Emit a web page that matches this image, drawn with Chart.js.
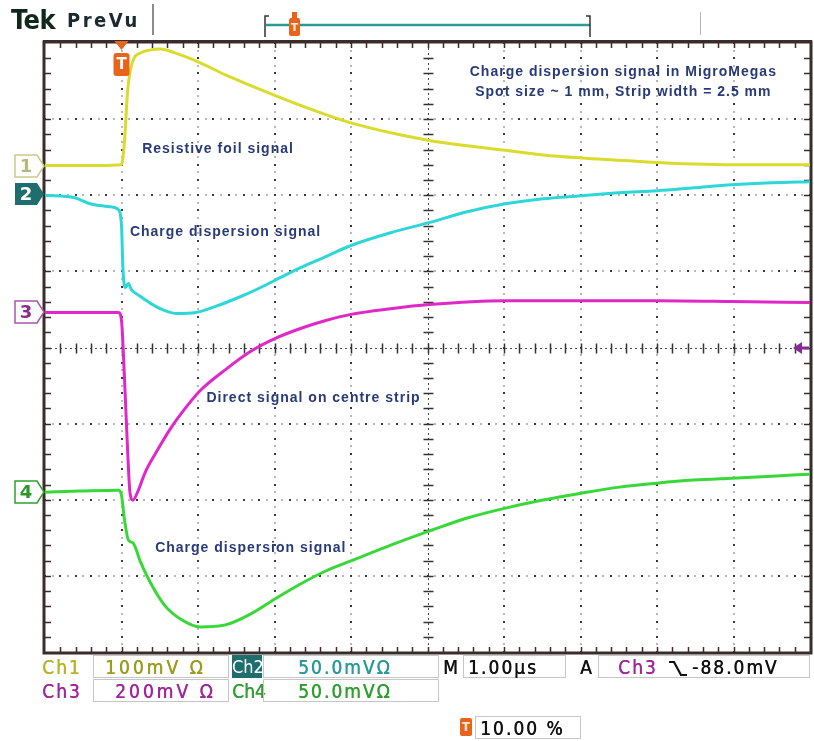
<!DOCTYPE html>
<html>
<head>
  <title>Charge dispersion signal in MigroMegas</title>
  <meta http-equiv="Content-Type" content="text/html; charset=utf-8" />
  <script src="https://cdn.jsdelivr.net/npm/chart.js@4.4.0/dist/chart.umd.min.js"></script>
  <style>
    body {
      margin: 0;
      background-color: #ffffff;
    }
    #wrap {
      position: relative;
      width: 814px;
      height: 741px;
      overflow: hidden;
    }
    #scope {
      position: absolute;
      left: 0;
      top: 0;
    }
    .t {
      position: absolute;
      font-family: "DejaVu Sans Condensed", "DejaVu Sans", sans-serif;
      font-stretch: condensed;
      font-size: 19px;
      line-height: 22px;
      letter-spacing: 2px;
      white-space: nowrap;
      text-shadow: 0.5px 0 0 currentColor;
    }
    .box {
      position: absolute;
      height: 23px;
      box-sizing: border-box;
      border: 1px solid #c6c6c6;
    }
  </style>
</head>
<body>
  <div id="wrap">
    <canvas id="scope" width="814" height="741"></canvas>

    <div class="t" style="left:11px; top:4px; font-size:27px; line-height:32px; font-weight:bold; color:#10281c; letter-spacing:-0.5px; font-stretch:normal; text-shadow:none;">Tek</div>
    <div class="t" style="left:67px; top:7px; font-size:20px; line-height:26px; font-weight:bold; color:#1a2a30; letter-spacing:2.5px; text-shadow:none;">PreVu</div>

    <!-- readout, row 1 -->
    <div class="t" style="left:42px; top:656px; color:#b4b42a;">Ch1</div>
    <div class="box" style="left:93px; top:655px; width:136px;"></div>
    <div class="t" style="left:105px; top:656px; color:#9c9c20; letter-spacing:3px;">100mV Ω</div>
    <div class="t" style="left:232px; top:655px; width:30px; height:23px; line-height:23px; letter-spacing:0; font-size:18px; text-align:center; background:#1d6e6c; color:#ffffff; text-shadow:none;">Ch2</div>
    <div class="box" style="left:263px; top:655px; width:176px;"></div>
    <div class="t" style="left:298px; top:656px; color:#2a9a98;">50.0mVΩ</div>
    <div class="t" style="left:443px; top:656px; color:#111111;">M</div>
    <div class="box" style="left:463px; top:655px; width:103px;"></div>
    <div class="t" style="left:468px; top:656px; color:#111111;">1.00µs</div>
    <div class="t" style="left:580px; top:656px; color:#111111;">A</div>
    <div class="box" style="left:598px; top:655px; width:212px;"></div>
    <div class="t" style="left:618px; top:656px; color:#a0289a;">Ch3</div>
    <svg style="position:absolute; left:668px; top:659px;" width="20" height="18"><path d="M1 3 H6 L13 16 H19" stroke="#111" stroke-width="2.2" fill="none"/></svg>
    <div class="t" style="left:692px; top:656px; color:#111111;">-88.0mV</div>

    <!-- readout, row 2 -->
    <div class="t" style="left:42px; top:680px; color:#a0289a;">Ch3</div>
    <div class="box" style="left:93px; top:679px; width:136px;"></div>
    <div class="t" style="left:115px; top:680px; color:#a0289a; letter-spacing:3px;">200mV Ω</div>
    <div class="t" style="left:232px; top:680px; color:#2fa02f; letter-spacing:0;">Ch4</div>
    <div class="box" style="left:263px; top:679px; width:176px;"></div>
    <div class="t" style="left:298px; top:680px; color:#2fa02f;">50.0mVΩ</div>

    <!-- readout, row 3 -->
    <div class="t" style="left:460px; top:718px; width:12px; height:18px; line-height:18px; font-size:13px; font-weight:bold; letter-spacing:0; text-align:center; background:#e8641c; color:#ffe8d0; border-radius:2px; text-shadow:none;">T</div>
    <div class="box" style="left:475px; top:716px; width:106px;"></div>
    <div class="t" style="left:480px; top:717px; color:#111111;">10.00 %</div>
  </div>

  <script>
    // 1 µs/div, trigger at 10 % of the record -> screen spans -1 .. 9 µs
    const t1 = [-1, -0.28, 0, 0.04, 0.08, 0.14, 0.25, 0.38, 0.51, 0.7, 1.03, 1.36, 1.69, 2.01, 2.34, 2.67, 3.0, 3.52, 4.02, 4.52, 5.02, 5.51, 6.01, 6.51, 7.0, 7.48, 7.98, 8.5, 9];
    const ch1 = [0, 0, 1, 33, 98, 135, 148, 152, 153, 148, 135, 119, 105, 92, 79, 67, 56, 43, 33, 26, 20, 14, 10, 7, 4, 2, 1, 1, 1];

    const t2 = [-1, -0.61, -0.41, -0.15, -0.04, 0, 0.02, 0.05, 0.09, 0.13, 0.25, 0.38, 0.53, 0.73, 0.97, 1.23, 1.56, 1.82, 2.08, 2.34, 2.67, 3.0, 3.52, 4.02, 4.52, 5.02, 5.51, 6.01, 6.51, 7.0, 7.48, 7.98, 8.5, 9];
    const ch2 = [-1, -2.6, -6.6, -8.5, -10.5, -21, -50.5, -61.6, -59, -63, -67.5, -72, -76, -78.7, -78, -74, -67.5, -61.6, -55, -48.5, -41.3, -34, -25.6, -19, -11.8, -6.6, -3.3, -1.3, 0.7, 2, 3.9, 5.9, 7.2, 7.9];

    const t3 = [-1, -0.04, 0, 0.04, 0.08, 0.11, 0.15, 0.21, 0.31, 0.44, 0.64, 0.84, 1.03, 1.36, 1.69, 2.01, 2.34, 2.67, 3.0, 3.52, 4.02, 5.02, 6.01, 7.0, 7.98, 9];
    const ch3 = [0, 0, -21, -178, -362, -472, -493, -472, -420, -372, -305, -250, -205, -150, -102, -68, -42, -21, -5, 10, 21, 31, 31, 31, 29, 26];

    const t4 = [-1, -0.54, -0.04, 0, 0.04, 0.09, 0.15, 0.25, 0.38, 0.57, 0.77, 1.03, 1.36, 1.69, 2.01, 2.34, 2.67, 3.0, 3.52, 4.02, 4.52, 5.02, 5.51, 6.01, 6.51, 7.0, 7.48, 7.98, 8.5, 9];
    const ch4 = [0, 0.7, 1.3, -2, -18.4, -31.5, -33.4, -46, -59.7, -74.7, -83.3, -88.5, -87.2, -80, -70, -60.3, -51.8, -45.2, -34.8, -25.6, -17, -10.5, -5.2, -0.7, 3.3, 5.9, 7.9, 9.2, 10.5, 11.8];

    // channel settings: mV per division and ground position in divisions
    const chNames = ["Ch1", "Ch2", "Ch3", "Ch4"];
    const mvPerDiv = [100, 50, 200, 50];
    const posDiv = [2.39, 2.02, 0.46, -1.9];
    const chColors = ["#d9dc2c", "#2ed6d8", "#e028c8", "#38d838"];
    const triggerLevelDiv = 0;

    const notes = [
      { text: "Charge dispersion signal in MigroMegas", t: 6.56, v: 3.62, align: "center" },
      { text: "Spot size ~ 1 mm, Strip width = 2.5 mm", t: 6.56, v: 3.36, align: "center" },
      { text: "Resistive foil signal", t: 0.27, v: 2.61, align: "left" },
      { text: "Charge dispersion signal", t: 0.11, v: 1.51, align: "left" },
      { text: "Direct signal on centre strip", t: 1.11, v: -0.66, align: "left" },
      { text: "Charge dispersion signal", t: 0.44, v: -2.64, align: "left" }
    ];

    function toScreen(ts, mv, ch) {
      return ts.map((t, i) => ({ x: t, y: posDiv[ch] + mv[i] / mvPerDiv[ch] }));
    }

    const traces = [[t1, ch1], [t2, ch2], [t3, ch3], [t4, ch4]];

    const scopeDecor = {
      id: "scopeDecor",
      beforeDatasetsDraw(chart) {
        const { ctx, chartArea: a, scales: { x, y } } = chart;
        ctx.save();

        // dotted graticule lines
        for (let i = 0; i <= 8; i++) {
          if (i === 4) continue;
          const px = Math.round(x.getPixelForValue(i));
          for (let k = 0; k <= 80; k++) {
            const py = y.getPixelForValue(-4 + k * 0.1);
            ctx.fillStyle = (k % 2 === 0) ? "#3a3a3a" : "#b8b8b8";
            ctx.fillRect(px - 1, Math.round(py) - 1, 2, 2);
          }
        }
        for (let j = -3; j <= 3; j++) {
          if (j === 0) continue;
          const py = Math.round(y.getPixelForValue(j));
          for (let k = 0; k <= 100; k++) {
            const px = x.getPixelForValue(-1 + k * 0.1);
            ctx.fillStyle = (k % 2 === 0) ? "#3a3a3a" : "#b8b8b8";
            ctx.fillRect(Math.round(px) - 1, py - 1, 2, 2);
          }
        }

        // centre lines with minor ticks
        const cx = Math.round(x.getPixelForValue(4)) + 0.5;
        const cy = Math.round(y.getPixelForValue(0)) + 0.5;
        ctx.strokeStyle = "#4a4a4a";
        ctx.lineWidth = 1;
        ctx.setLineDash([2, 3]);
        ctx.beginPath();
        ctx.moveTo(a.left, cy); ctx.lineTo(a.right, cy);
        ctx.moveTo(cx, a.top); ctx.lineTo(cx, a.bottom);
        ctx.stroke();
        ctx.setLineDash([]);
        ctx.lineWidth = 1.5;
        ctx.strokeStyle = "#333333";
        ctx.beginPath();
        for (let k = 1; k < 50; k++) {
          const px = Math.round(x.getPixelForValue(-1 + k * 0.2)) + 0.5;
          ctx.moveTo(px, cy - 5); ctx.lineTo(px, cy + 5);
        }
        for (let k = 1; k < 40; k++) {
          const py = Math.round(y.getPixelForValue(-4 + k * 0.2)) + 0.5;
          ctx.moveTo(cx - 5, py); ctx.lineTo(cx + 5, py);
        }
        ctx.stroke();

        // frame with ticks
        ctx.strokeStyle = "#3b2c2c";
        ctx.lineWidth = 1.5;
        ctx.beginPath();
        for (let k = 1; k < 50; k++) {
          const px = Math.round(x.getPixelForValue(-1 + k * 0.2)) + 0.5;
          ctx.moveTo(px, a.top); ctx.lineTo(px, a.top + 5);
          ctx.moveTo(px, a.bottom); ctx.lineTo(px, a.bottom - 5);
        }
        for (let k = 1; k < 40; k++) {
          const py = Math.round(y.getPixelForValue(-4 + k * 0.2)) + 0.5;
          ctx.moveTo(a.left, py); ctx.lineTo(a.left + 6, py);
          ctx.moveTo(a.right, py); ctx.lineTo(a.right - 6, py);
        }
        ctx.stroke();
        ctx.lineWidth = 3;
        ctx.strokeRect(a.left - 1, a.top - 1, a.right - a.left + 2, a.bottom - a.top + 2);
        ctx.fillStyle = "#3b2c2c";
        ctx.fillRect(a.left - 2, a.top - 3, a.right - a.left + 4, 3);
        ctx.restore();
      },
      afterDatasetsDraw(chart) {
        const { ctx, chartArea: a, scales: { x, y } } = chart;
        ctx.save();

        // annotations
        ctx.fillStyle = "#283a78";
        ctx.font = 'bold 14px "Liberation Sans", Arial, sans-serif';
        ctx.letterSpacing = "1px";
        ctx.textBaseline = "middle";
        notes.forEach(n => {
          ctx.textAlign = n.align;
          ctx.fillText(n.text, x.getPixelForValue(n.t), y.getPixelForValue(n.v));
        });
        ctx.letterSpacing = "0px";

        // channel ground markers
        const mLeft = 15, mRight = 37;
        posDiv.forEach((p, i) => {
          const py = Math.round(y.getPixelForValue(p));
          ctx.beginPath();
          ctx.moveTo(mLeft, py - 11);
          ctx.lineTo(mRight, py - 11);
          ctx.lineTo(a.left - 1, py);
          ctx.lineTo(mRight, py + 11);
          ctx.lineTo(mLeft, py + 11);
          ctx.closePath();
          const edge = ["#c9c98a", "#1d6e6c", "#a458a4", "#2fa02f"][i];
          if (i === 1) {
            ctx.fillStyle = edge;
            ctx.fill();
          } else {
            ctx.fillStyle = "#ffffff";
            ctx.fill();
            ctx.strokeStyle = edge;
            ctx.lineWidth = 1.5;
            ctx.stroke();
          }
          ctx.fillStyle = ["#b8b87a", "#ffffff", "#8a2a8a", "#2a982a"][i];
          ctx.font = 'bold 18px "DejaVu Sans", sans-serif';
          ctx.textAlign = "center";
          ctx.textBaseline = "middle";
          ctx.fillText(String(i + 1), mLeft + 11, py + 1);
        });

        // trigger position marker
        const tx = x.getPixelForValue(0);
        ctx.fillStyle = "#e8641c";
        ctx.beginPath();
        ctx.moveTo(tx - 7, a.top - 2); ctx.lineTo(tx + 7, a.top - 2); ctx.lineTo(tx, a.top + 7);
        ctx.closePath();
        ctx.fill();
        ctx.beginPath();
        ctx.roundRect(tx - 8, a.top + 10, 16, 23, 3);
        ctx.fill();
        ctx.fillStyle = "#ffffff";
        ctx.font = 'bold 15px "DejaVu Sans", sans-serif';
        ctx.textAlign = "center";
        ctx.fillText("T", tx, a.top + 22);

        // trigger level arrow
        const ly = Math.round(y.getPixelForValue(triggerLevelDiv));
        ctx.fillStyle = "#8a2a98";
        ctx.beginPath();
        ctx.moveTo(a.right - 17, ly); ctx.lineTo(a.right - 8, ly - 6); ctx.lineTo(a.right - 8, ly + 6);
        ctx.closePath();
        ctx.fill();
        ctx.fillRect(a.right - 9, ly - 1.5, 8, 3);

        // record / preview bar above the screen
        ctx.fillStyle = "#8c8c8c";
        ctx.fillRect(152, 4, 2, 31);
        ctx.fillStyle = "#b4b4b4";
        ctx.fillRect(700, 12, 1, 23);
        ctx.strokeStyle = "#2a9a98";
        ctx.lineWidth = 2.5;
        ctx.beginPath();
        ctx.moveTo(266, 25); ctx.lineTo(590, 25);
        ctx.stroke();
        ctx.strokeStyle = "#333333";
        ctx.lineWidth = 1.5;
        ctx.beginPath();
        ctx.moveTo(269, 16); ctx.lineTo(265, 16); ctx.lineTo(265, 37);
        ctx.moveTo(586, 16); ctx.lineTo(590, 16); ctx.lineTo(590, 37);
        ctx.stroke();
        ctx.fillStyle = "#e8641c";
        ctx.beginPath();
        ctx.roundRect(289, 18, 11, 18, 2);
        ctx.fill();
        ctx.fillRect(292, 12, 5, 6);
        ctx.fillStyle = "#ffe8c8";
        ctx.font = 'bold 11px "DejaVu Sans", sans-serif';
        ctx.fillText("T", 294.5, 28);
        ctx.restore();
      }
    };

    var ctxScope = document.getElementById("scope");
    var scopeChart = new Chart(ctxScope, {
      type: "line",
      data: {
        datasets: traces.map((tr, i) => ({
          label: chNames[i],
          data: toScreen(tr[0], tr[1], i),
          borderColor: chColors[i],
          borderWidth: 3,
          pointRadius: 0,
          cubicInterpolationMode: "monotone",
          fill: false
        }))
      },
      options: {
        responsive: false,
        animation: false,
        devicePixelRatio: 1,
        layout: { padding: { left: 45, right: 4, top: 43, bottom: 89 } },
        plugins: {
          legend: { display: false },
          tooltip: { enabled: false }
        },
        scales: {
          x: { type: "linear", min: -1, max: 9, display: false },
          y: { type: "linear", min: -4, max: 4, display: false }
        }
      },
      plugins: [scopeDecor]
    });
  </script>
</body>
</html>
